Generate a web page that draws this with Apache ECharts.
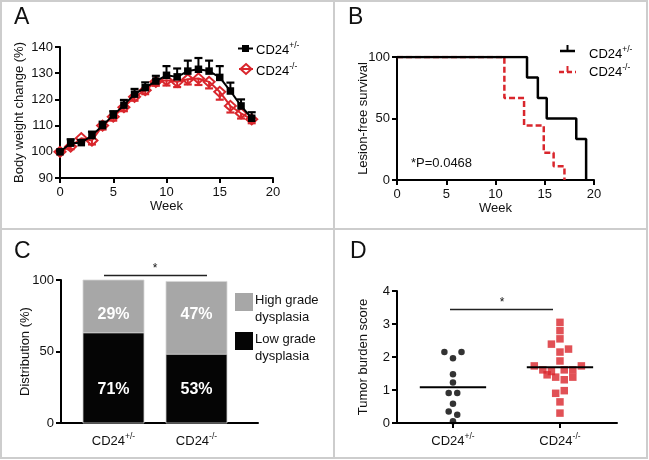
<!DOCTYPE html>
<html><head><meta charset="utf-8">
<script src="https://cdn.jsdelivr.net/npm/echarts@6/dist/echarts.min.js"></script>
<style>html,body{margin:0;padding:0;background:#fff}#c{width:649px;height:460px}</style>
</head><body><div id="c"></div>
<script>
// ---- Panel A: body weight change ----
const weeks = [0,1,2,3,4,5,6,7,8,9,10,11,12,13,14,15,16,17,18];
const hetMean = [100,103.3,103.5,106.2,110,114,117.8,122,124.5,127,129.2,128.6,130.8,131.5,130.8,128.4,123.2,117.5,112.8];
const hetErr  = [0.5,1.5,1,1.5,1.5,1.5,2,2,2,2,3.5,3.2,4,4.3,4,4.3,3.2,2.5,2.3];
const koMean  = [100,102,105.2,104.3,110,113.4,117,121,123.5,126.7,127.3,126.7,127.7,128,126.7,122.9,117.5,114.7,112.4];
const koErr   = [0.5,1,1.5,1.5,1.5,1.5,1.5,1.5,1.5,1.5,2,2,2,2.5,2.5,3,2.5,2,1.5];

// ---- Panel B: lesion-free survival ----
const kmHetTime = [0,13.2,14.3,15.2,18.2,19.2];
const kmHetSurv = [100,83.3,66.7,50,33.3,0];
const kmKoTime  = [0,10.9,12.9,14.9,15.9,17.0];
const kmKoSurv  = [100,66.7,44.4,22.2,11.1,0];
const pText = '*P=0.0468';

// ---- Panel C: distribution ----
const groups = ['CD24+/-','CD24-/-'];
const lowGrade  = [63,48];
const highGrade = [37,51];
const lowLabels  = ['71%','53%'];
const highLabels = ['29%','47%'];

// ---- Panel D: tumor burden ----
const hetScores = [2.15,2.15,1.96,1.48,1.23,0.91,0.91,0.58,0.35,0.25,0.05];
const hetJitter = [-0.08,0.08,0,0,0,-0.04,0.04,0,-0.04,0.04,0];
const koScores  = [3.05,2.80,2.55,2.39,2.24,2.15,1.88,1.73,1.73,1.61,1.56,1.46,1.39,1.61,1.61,1.31,1.39,0.98,0.90,0.64,0.30];
const koJitter  = [0,0,0,-0.08,0.08,0,0,-0.24,0.2,-0.16,-0.08,-0.12,-0.04,0.04,0.12,0.04,0.12,0.04,-0.04,0,0];
const groupMeans = [1.08,1.69];

const RED = '#d9262c';
const FONT = 'Liberation Sans, Arial, sans-serif';
const chart = echarts.init(document.getElementById('c'), null, {renderer:'canvas'});

function supLabel(s){
  const m = s.match(/^(CD24)(.*)$/);
  return '{m|' + m[1] + '}{s|' + m[2] + '}';
}
const supRich = {
  m:{fontSize:13, fontFamily:FONT, color:'#111', verticalAlign:'bottom', lineHeight:16},
  s:{fontSize:8.5, fontFamily:FONT, color:'#111', verticalAlign:'top', lineHeight:16}
};

function axisBase(grid, extra){
  return Object.assign({
    gridIndex:grid,
    nameMoveOverlap:false,
    axisLine:{show:true, onZero:false, lineStyle:{color:'#000', width:2}},
    axisTick:{show:true, length:5, lineStyle:{color:'#000', width:2}},
    axisLabel:{color:'#111', fontSize:13, fontFamily:FONT, margin:7},
    splitLine:{show:false},
    nameTextStyle:{color:'#111', fontSize:13, fontFamily:FONT}
  }, extra);
}

function errRender(dir, color){
  return function(params, api){
    const x = api.value(0), m = api.value(1), e = api.value(2);
    const p0 = api.coord([x,m]); const p1 = api.coord([x, m + dir*e]);
    const cap = 4;
    return {type:'group', children:[
      {type:'line', shape:{x1:p0[0],y1:p0[1],x2:p1[0],y2:p1[1]}, style:{stroke:color,lineWidth:2}},
      {type:'line', shape:{x1:p1[0]-cap,y1:p1[1],x2:p1[0]+cap,y2:p1[1]}, style:{stroke:color,lineWidth:2.2}}
    ]};
  };
}

// label nudges (px) relative to segment centres
const lowLabelNudge = [12, 1];
const highLabelNudge = [8, -3];
const barLabelStyle = {fill:'#fff', fontSize:16, fontWeight:'bold', fontFamily:FONT, align:'center', verticalAlign:'middle'};

function barRender(params, api){
  const i = params.dataIndex;
  const x = api.value(0), lo = api.value(1), hi = api.value(2);
  const p0 = api.coord([x,0]), p1 = api.coord([x,lo]), p2 = api.coord([x,lo+hi]);
  const w = 61;
  return {type:'group', children:[
    {type:'rect', shape:{x:p0[0]-w/2, y:p2[1], width:w, height:p1[1]-p2[1]}, style:{fill:'#a7a7a7', stroke:'#d6d6d6', lineWidth:0.8}},
    {type:'rect', shape:{x:p0[0]-w/2, y:p1[1], width:w, height:p0[1]-p1[1]}, style:{fill:'#050505', stroke:'#cfcfcf', lineWidth:0.8}},
    {type:'text', x:p0[0], y:(p1[1]+p2[1])/2 + highLabelNudge[i], style:Object.assign({text:highLabels[i]}, barLabelStyle)},
    {type:'text', x:p0[0], y:(p0[1]+p1[1])/2 + lowLabelNudge[i], style:Object.assign({text:lowLabels[i]}, barLabelStyle)}
  ]};
}

const meanHalf = 0.31;

const option = {
  animation:false,
  backgroundColor:'#fff',
  grid:[
    {left:60, top:47, width:213, height:131},
    {left:397, top:57, width:197, height:123},
    {left:61, top:280, width:197, height:143},
    {left:397, top:291, width:220, height:132}
  ],
  xAxis:[
    axisBase(0,{type:'value', min:0, max:20, interval:5, name:'Week', nameLocation:'middle', nameGap:22, axisLabel:{color:'#111', fontSize:13, fontFamily:FONT, margin:8}}),
    axisBase(1,{type:'value', min:0, max:20, interval:5, name:'Week', nameLocation:'middle', nameGap:22, axisLabel:{color:'#111', fontSize:13, fontFamily:FONT, margin:8}}),
    axisBase(2,{type:'value', min:0.3675, max:2.741, axisTick:{show:false},
      axisLabel:{customValues:[1,2], margin:9, formatter:v=>supLabel(groups[Math.round(v)-1]), rich:supRich}}),
    axisBase(3,{type:'value', min:0.477, max:2.533,
      axisTick:{show:true, customValues:[1,2], length:5, lineStyle:{color:'#000', width:2}},
      axisLabel:{customValues:[1,2], margin:9, formatter:v=>supLabel(groups[Math.round(v)-1]), rich:supRich}})
  ],
  yAxis:[
    axisBase(0,{type:'value', min:90, max:140, interval:10, name:'Body weight change (%)', nameLocation:'middle', nameGap:34}),
    axisBase(1,{type:'value', min:0, max:100, interval:50, name:'Lesion-free survival', nameLocation:'middle', nameGap:27}),
    axisBase(2,{type:'value', min:0, max:100, interval:50, name:'Distribution (%)', nameLocation:'middle', nameGap:29}),
    axisBase(3,{type:'value', min:0, max:4, interval:1, name:'Tumor burden score', nameLocation:'middle', nameGap:27})
  ],
  series:[
    // Panel A
    {type:'line', xAxisIndex:0, yAxisIndex:0, data:weeks.map((w,i)=>[w,koMean[i]]),
      symbol:'diamond', symbolSize:[11,10], lineStyle:{color:RED, width:2},
      itemStyle:{color:'rgba(255,255,255,0)', borderColor:RED, borderWidth:2}, z:2},
    {type:'custom', xAxisIndex:0, yAxisIndex:0, data:weeks.map((w,i)=>[w,koMean[i],koErr[i]]),
      renderItem:errRender(-1, RED), z:2},
    {type:'line', xAxisIndex:0, yAxisIndex:0, data:weeks.map((w,i)=>[w,hetMean[i]]),
      symbol:'rect', symbolSize:7.5, lineStyle:{color:'#000', width:2},
      itemStyle:{color:'#000'}, z:4},
    {type:'custom', xAxisIndex:0, yAxisIndex:0, data:weeks.map((w,i)=>[w,hetMean[i],hetErr[i]]),
      renderItem:errRender(1, '#000'), z:4},
    // Panel B
    {type:'line', xAxisIndex:1, yAxisIndex:1, step:'end', symbol:'none',
      data:kmKoTime.map((t,i)=>[t,kmKoSurv[i]]), lineStyle:{color:RED, width:2.5, type:[6,3]}, z:3},
    {type:'line', xAxisIndex:1, yAxisIndex:1, step:'end', symbol:'none',
      data:kmHetTime.map((t,i)=>[t,kmHetSurv[i]]), lineStyle:{color:'#000', width:2.5}, z:4},
    // Panel C
    {type:'custom', xAxisIndex:2, yAxisIndex:2, renderItem:barRender,
      encode:{x:0, y:1},
      data:groups.map((g,i)=>[i+1, lowGrade[i], highGrade[i]])},
    // Panel D
    {type:'scatter', xAxisIndex:3, yAxisIndex:3, symbol:'circle', symbolSize:6.5,
      data:hetScores.map((v,i)=>[1+hetJitter[i], v]), itemStyle:{color:'#000'}},
    {type:'scatter', xAxisIndex:3, yAxisIndex:3, symbol:'rect', symbolSize:7.5,
      data:koScores.map((v,i)=>[2+koJitter[i], v]), itemStyle:{color:RED}},
    {type:'line', xAxisIndex:3, yAxisIndex:3, symbol:'none', lineStyle:{color:'#000', width:2},
      data:[[1-meanHalf, groupMeans[0]],[1+meanHalf, groupMeans[0]]], z:5},
    {type:'line', xAxisIndex:3, yAxisIndex:3, symbol:'none', lineStyle:{color:'#000', width:2},
      data:[[2-meanHalf, groupMeans[1]],[2+meanHalf, groupMeans[1]]], z:5}
  ],
  graphic:[
    // frame
    {type:'rect', shape:{x:1,y:1,width:646,height:457}, style:{fill:'none', stroke:'#cdcdcd', lineWidth:2}, z:-1},
    {type:'line', shape:{x1:334,y1:1,x2:334,y2:458}, style:{stroke:'#cdcdcd', lineWidth:2}, z:-1},
    {type:'line', shape:{x1:1,y1:229,x2:647,y2:229}, style:{stroke:'#cdcdcd', lineWidth:2}, z:-1},
    // panel letters
    {type:'text', left:14, top:6, style:{text:'A', fontSize:23, fontFamily:FONT, fill:'#111'}},
    {type:'text', left:348, top:6, style:{text:'B', fontSize:23, fontFamily:FONT, fill:'#111'}},
    {type:'text', left:14, top:240, style:{text:'C', fontSize:23, fontFamily:FONT, fill:'#111'}},
    {type:'text', left:350, top:240, style:{text:'D', fontSize:23, fontFamily:FONT, fill:'#111'}},
    // Legend A
    {type:'line', shape:{x1:238,y1:48.5,x2:253,y2:48.5}, style:{stroke:'#000', lineWidth:2}},
    {type:'rect', shape:{x:242,y:45,width:7,height:7}, style:{fill:'#000'}},
    {type:'line', shape:{x1:239,y1:69,x2:253,y2:69}, style:{stroke:RED, lineWidth:2}},
    {type:'polygon', shape:{points:[[246,64],[251.5,69],[246,74],[240.5,69]]}, style:{fill:'none', stroke:RED, lineWidth:2}},
    {type:'text', x:256, y:49, style:{text:supLabel('CD24+/-'), rich:supRich, verticalAlign:'middle'}},
    {type:'text', x:256, y:70, style:{text:supLabel('CD24-/-'), rich:supRich, verticalAlign:'middle'}},
    // Legend B
    {type:'line', shape:{x1:560,y1:51,x2:575,y2:51}, style:{stroke:'#000', lineWidth:2.5}},
    {type:'line', shape:{x1:567.5,y1:45,x2:567.5,y2:51}, style:{stroke:'#000', lineWidth:2}},
    {type:'line', shape:{x1:559,y1:72,x2:576,y2:72}, style:{stroke:RED, lineWidth:2.5, lineDash:[5,3]}},
    {type:'line', shape:{x1:567.5,y1:66,x2:567.5,y2:72}, style:{stroke:RED, lineWidth:2}},
    {type:'text', x:589, y:53, style:{text:supLabel('CD24+/-'), rich:supRich, verticalAlign:'middle'}},
    {type:'text', x:589, y:71, style:{text:supLabel('CD24-/-'), rich:supRich, verticalAlign:'middle'}},
    // P value
    {type:'text', x:411, y:163, style:{text:pText, fontSize:13, fontFamily:FONT, fill:'#111', verticalAlign:'middle'}},
    // Legend C
    {type:'rect', shape:{x:235,y:293,width:18,height:18}, style:{fill:'#a7a7a7'}},
    {type:'rect', shape:{x:235,y:332,width:18,height:18}, style:{fill:'#050505'}},
    {type:'text', x:255, y:292, style:{text:'High grade\ndysplasia', fontSize:13, lineHeight:17, fontFamily:FONT, fill:'#111'}},
    {type:'text', x:255, y:331, style:{text:'Low grade\ndysplasia', fontSize:13, lineHeight:17, fontFamily:FONT, fill:'#111'}},
    // significance C
    {type:'line', shape:{x1:104,y1:275.5,x2:207,y2:275.5}, style:{stroke:'#222', lineWidth:1.5}},
    {type:'text', x:155, y:269, style:{text:'*', fontSize:12, fontFamily:FONT, fill:'#111', align:'center', verticalAlign:'middle'}},
    // significance D
    {type:'line', shape:{x1:450,y1:309.5,x2:553,y2:309.5}, style:{stroke:'#222', lineWidth:1.5}},
    {type:'text', x:502, y:303, style:{text:'*', fontSize:12, fontFamily:FONT, fill:'#111', align:'center', verticalAlign:'middle'}}
  ]
};
chart.setOption(option);
</script>
</body></html>
